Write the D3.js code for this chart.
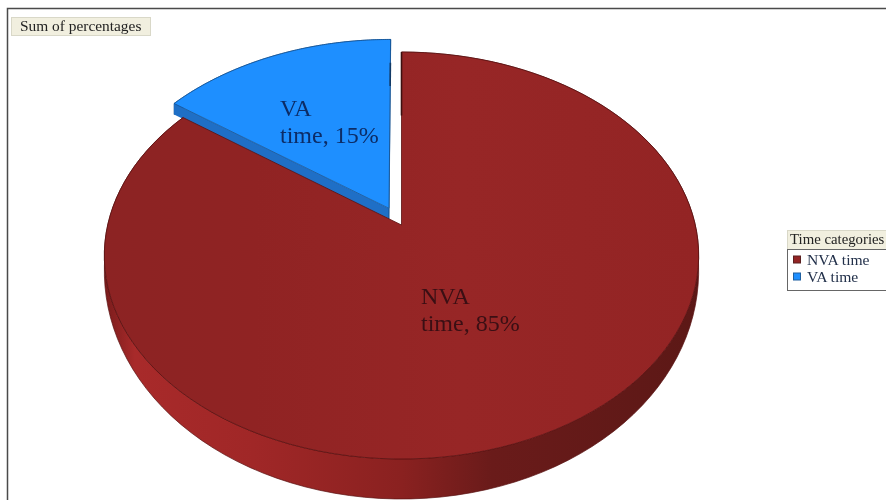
<!DOCTYPE html>
<html>
<head>
<meta charset="utf-8">
<script src="https://cdnjs.cloudflare.com/ajax/libs/d3/7.8.5/d3.min.js"></script>
<style>
  html, body { margin: 0; padding: 0; background: #fff; overflow: hidden; }
  text { font-family: "Liberation Serif", serif; }
  svg { filter: blur(0.35px); }
</style>
</head>
<body>
<div id="container"></div>
<script>
const categories = ['NVA time', 'VA time']
const percentages = [85, 15]
const colors = ['#932424', '#1e8fff']
const chartTitle = 'Sum of percentages'
const legendTitle = 'Time categories'

const width = 886
const height = 500

// perspective of the pie disc
const cx = 401.5, cy = 225
const radiusX = 293.8, radiusY = 198.9
const tilt = -0.15
const explode = 0.095

const svg = d3.select('#container').append('svg')
  .attr('width', width)
  .attr('height', height)
  .style('display', 'block')

const defs = svg.append('defs')

function hGradient(id, stops) {
  const g = defs.append('linearGradient').attr('id', id)
    .attr('gradientUnits', 'userSpaceOnUse')
    .attr('x1', 105).attr('x2', 699).attr('y1', 0).attr('y2', 0)
  stops.forEach(s => g.append('stop').attr('offset', s[0]).attr('stop-color', s[1]))
}

hGradient('redTop', [[0, '#8c2323'], [0.25, '#902323'], [0.6, '#972626'], [1, '#932424']])
hGradient('redSide', [[0, '#7a1c1c'], [0.05, '#a82a2a'], [0.25, '#a02727'], [0.5, '#8a2120'], [0.65, '#6a1b1a'], [1, '#5c1816']])

function project(u, v) {
  const w = 1 + tilt * v
  return [cx + radiusX * u / w, cy + radiusY * v / w]
}

// disc point for an angle from 12 o'clock, r = 1 on the rim, shifted by (ox, oy)
function discPoint(angle, r, ox, oy) {
  return project(r * Math.sin(angle) + ox, -r * Math.cos(angle) + oy)
}

// how far the side wall drops below a point of the top face
function depthAt(angle, r, oy) {
  const v = -r * Math.cos(angle) + oy
  return Math.max(11, 11 + 29 * v)
}

const line = d3.line()

const arcs = d3.pie().sort(null).value(d => d)(percentages)

function drawSlice(a, i, topFill, sideFill, faceFill, edge) {
  const mid = (a.startAngle + a.endAngle) / 2
  const ox = a.data < 50 ? explode * Math.sin(mid) : 0
  const oy = a.data < 50 ? -explode * Math.cos(mid) : 0
  const g = svg.append('g').attr('class', 'slice-' + i)

  const steps = d3.range(0, 121).map(k => a.startAngle + (a.endAngle - a.startAngle) * k / 120)
  const rim = steps.map(t => discPoint(t, 1, ox, oy))
  const lower = rim.map((p, k) => [p[0], p[1] + depthAt(steps[k], 1, oy)]).reverse()

  g.append('path')
    .attr('d', line(rim.concat(lower)) + 'Z')
    .attr('fill', sideFill)
    .attr('stroke', edge)
    .attr('stroke-width', 0.7)

  const apex = project(ox, oy)
  const corner = rim[rim.length - 1]
  if (faceFill) {
    const first = rim[0]
    const d = 11
    g.append('path')
      .attr('d', line([first, apex, [apex[0], apex[1] + d], [first[0], first[1] + d]]) + 'Z')
      .attr('fill', faceFill)
    g.append('path')
      .attr('d', line([corner, apex, [apex[0], apex[1] + d], [corner[0], corner[1] + d]]) + 'Z')
      .attr('fill', faceFill)
      .attr('stroke', edge)
      .attr('stroke-width', 0.6)
  }

  g.append('path')
    .attr('d', line([apex].concat(rim)) + 'Z')
    .attr('fill', topFill)
    .attr('stroke', edge)
    .attr('stroke-width', 0.8)
    .attr('stroke-linejoin', 'round')

  return { ox, oy, apex, rim }
}

// blue slice sits behind the red one
const blue = drawSlice(arcs[1], 1, colors[1], '#1e78d8', '#1f6fc6', '#14508f')
const red = drawSlice(arcs[0], 0, 'url(#redTop)', 'url(#redSide)', null, '#5a1212')

// dark slivers of the cut faces along the vertical gap
svg.append('path')
  .attr('d', line([red.rim[0], project(0, -0.6)]))
  .attr('stroke', '#3d1010').attr('stroke-width', 1.6).attr('fill', 'none')
svg.append('path')
  .attr('d', line([project(blue.ox, -0.93), project(blue.ox, -0.78)]))
  .attr('stroke', '#123a66').attr('stroke-width', 1.6).attr('fill', 'none')

// slice labels
const labelPos = [[421, 304], [280, 116]]
const labelFill = ['#3a0f14', '#0c2c66']
categories.forEach((c, k) => {
  const [word, rest] = c.split(' ')
  svg.selectAll('.label' + k).data([word, `${rest}, ${percentages[k]}%`]).enter().append('text')
    .attr('x', labelPos[k][0])
    .attr('y', (d, i) => labelPos[k][1] + i * 27)
    .attr('font-size', 24)
    .attr('fill', labelFill[k])
    .text(d => d)
})

// chart frame
svg.append('path')
  .attr('d', 'M7.5,500V8.5H886')
  .attr('fill', 'none')
  .attr('stroke', '#4a4a4a')
  .attr('stroke-width', 1.5)

// title box
svg.append('rect')
  .attr('x', 11.5).attr('y', 17.5).attr('width', 139).attr('height', 18)
  .attr('fill', '#f1efdf').attr('stroke', '#d9d8c8')
svg.append('text')
  .attr('x', 20).attr('y', 31)
  .attr('font-size', 15.4)
  .attr('fill', '#222')
  .text(chartTitle)

// legend
svg.append('rect')
  .attr('x', 787.5).attr('y', 230.5).attr('width', 110).attr('height', 19)
  .attr('fill', '#f1efdf').attr('stroke', '#d9d8c8')
svg.append('text')
  .attr('x', 790).attr('y', 244)
  .attr('font-size', 14.8)
  .attr('fill', '#222')
  .text(legendTitle)
svg.append('rect')
  .attr('x', 787.5).attr('y', 249.5).attr('width', 110).attr('height', 41)
  .attr('fill', '#fff').attr('stroke', '#666')

const legendY = d3.scalePoint().domain(categories).range([260, 277])
categories.forEach((c, i) => {
  svg.append('rect')
    .attr('x', 793.5).attr('y', legendY(c) - 4)
    .attr('width', 7).attr('height', 7)
    .attr('fill', colors[i])
    .attr('stroke', i === 0 ? '#5a2020' : '#1f5f9f')
  svg.append('text')
    .attr('x', 807).attr('y', legendY(c) + 5)
    .attr('font-size', 15.6)
    .attr('fill', '#22304a')
    .text(c)
})
</script>
</body>
</html>
